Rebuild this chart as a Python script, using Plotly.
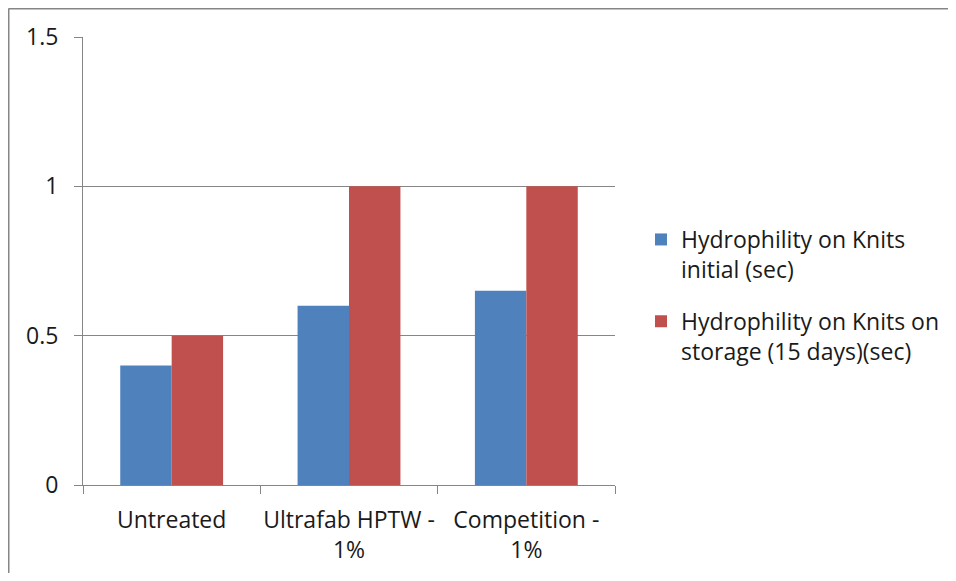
import plotly.graph_objects as go

categories = ["Untreated", "Ultrafab HPTW -<br>1%", "Competition -<br>1%"]
series_names = ["Hydrophility on Knits<br>initial (sec)",
                "Hydrophility on Knits on<br>storage (15 days)(sec)"]
initial = [0.4, 0.6, 0.65]
storage = [0.5, 1.0, 1.0]
colors = ["#4F81BD", "#C0504D"]
y_ticks = [0, 0.5, 1, 1.5]
y_tick_text = ["0", "0.5", "1", "1.5"]

FONT = "'Open Sans', sans-serif"
OFF = 8  # browser body margin
W, H = 956 - 2 * OFF, 581 - 2 * OFF
L, R, T, B = 83 - OFF, 615 - OFF, 37 - OFF, 485 - OFF

fig = go.Figure()
for i, (name, vals) in enumerate(zip(series_names, [initial, storage])):
    fig.add_trace(go.Bar(x=categories, y=vals, name=name, marker_color=colors[i],
                         marker_line_width=0, legendgroup=f"g{i}"))

def px_x(x):
    return (x - L) / (R - L)

def px_y(y):
    return (B - y) / (B - T)

border = dict(color="#868686", width=2)
fig.add_shape(type="line", xref="paper", yref="paper",
              x0=px_x(0.5), x1=px_x(W + 20), y0=px_y(0.5), y1=px_y(0.5), line=border)
fig.add_shape(type="line", xref="paper", yref="paper",
              x0=px_x(0.5), x1=px_x(0.5), y0=px_y(0.5), y1=px_y(H + 20), line=border)

fig.update_layout(
    width=W, height=H,
    margin=dict(l=L, r=W - R, t=T, b=H - B, pad=0, autoexpand=False),
    paper_bgcolor="white", plot_bgcolor="white",
    barmode="group", bargap=0.42, bargroupgap=0,
    font=dict(family=FONT, size=23, color="#1a1a1a"),
    showlegend=True,
    legend=dict(x=px_x(633), y=px_y(210), xanchor="left", yanchor="top",
                traceorder="grouped", tracegroupgap=19, valign="top",
                font=dict(size=23), bgcolor="rgba(0,0,0,0)"),
    xaxis=dict(showline=True, linecolor="#868686", linewidth=1,
               ticks="outside", tickson="boundaries", ticklen=8, tickcolor="#868686",
               showgrid=False, ticklabelstandoff=14, tickangle=0, automargin=False,
               fixedrange=True),
    yaxis=dict(range=[0, 1.5], tickvals=y_ticks, ticktext=y_tick_text,
               showline=True, linecolor="#868686", linewidth=1,
               ticks="outside", ticklen=8, tickcolor="#868686",
               showgrid=True, gridcolor="#868686", gridwidth=1,
               zeroline=False, ticklabelstandoff=11, automargin=False),
)
fig.write_html("out.html")
